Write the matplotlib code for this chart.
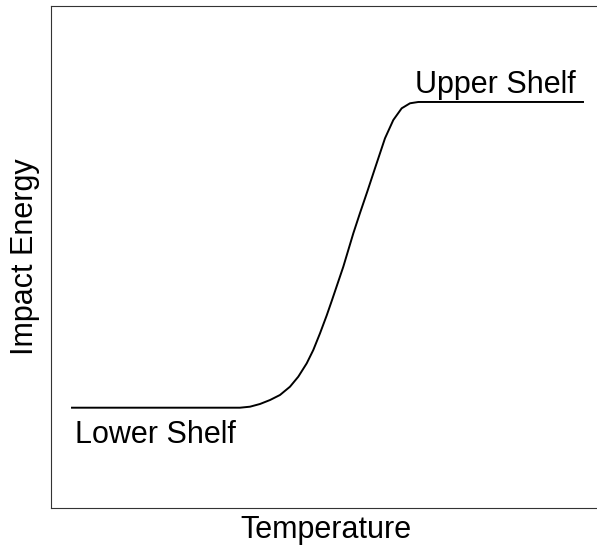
import matplotlib
matplotlib.use("Agg")
import matplotlib.pyplot as plt

plt.rcParams['font.family'] = ['Liberation Sans', 'DejaVu Sans']

# Ductile-to-brittle transition curve (arbitrary units, 0-100)
temperature = [3.84, 34.55, 36.38, 38.21, 40.04, 41.86, 43.69, 45.21, 46.75,
               47.95, 49.18, 50.40, 51.32, 53.44, 55.27, 56.49, 57.86, 59.23,
               61.06, 62.58, 64.11, 65.63, 67.15, 97.26]
impact_energy = [19.98, 19.98, 20.18, 20.72, 21.51, 22.51, 24.16, 26.16, 28.82,
                 31.47, 34.80, 38.35, 41.24, 48.07, 54.72, 58.76, 63.15, 67.67,
                 73.65, 77.29, 79.62, 80.62, 80.88, 80.88]

labels = {'upper': 'Upper Shelf', 'lower': 'Lower Shelf'}

fig = plt.figure(figsize=(5.97, 5.5), dpi=100)
ax = fig.add_axes([51 / 597, 42 / 550, 550 / 597, 502 / 550])

ax.plot(temperature, impact_energy, color='black', linewidth=1.4,
        solid_joinstyle='round')

ax.text(66.5, 82.7, labels['upper'], fontsize=22, va='baseline', ha='left')
ax.text(4.4, 12.95, labels['lower'], fontsize=22, va='baseline', ha='left')

ax.set_xlim(0, 100.55)
ax.set_ylim(0, 100)
ax.set_xticks([])
ax.set_yticks([])
for s in ax.spines.values():
    s.set_color('#333333')
    s.set_linewidth(0.8)

ax.set_xlabel('Temperature', fontsize=22, labelpad=5)
ax.set_ylabel('Impact Energy', fontsize=22, labelpad=8)

fig.savefig('out.png', dpi=100)
